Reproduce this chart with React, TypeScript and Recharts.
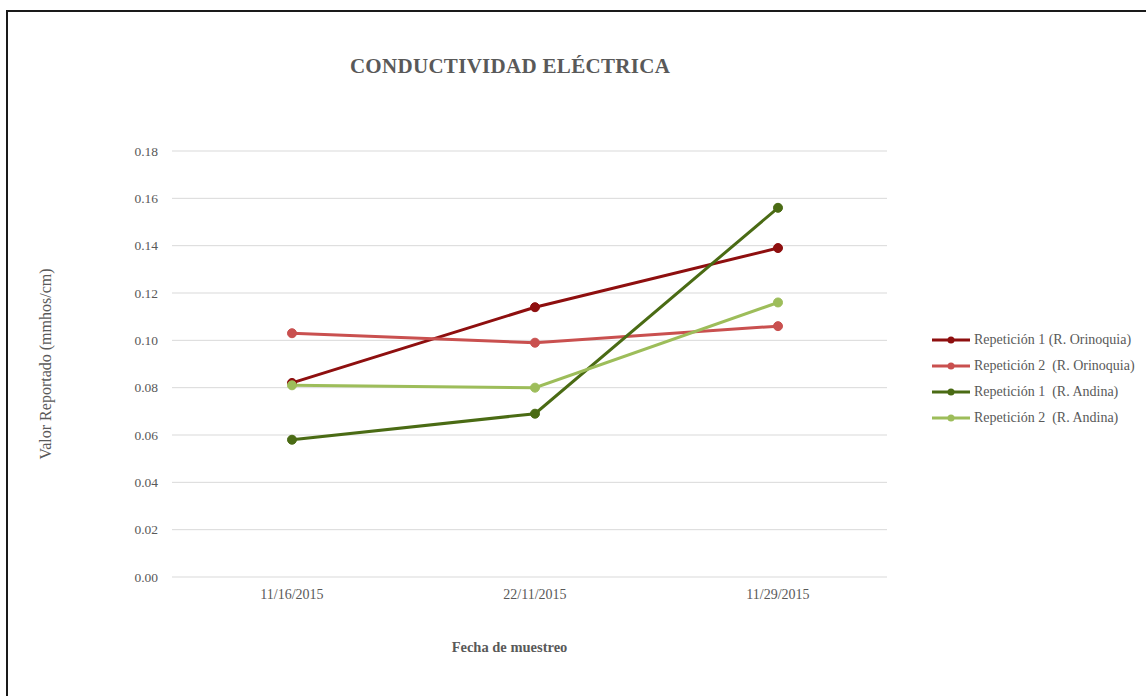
import React from "react";
import { LineChart, Line, XAxis, YAxis, CartesianGrid } from "recharts";

const categories = ["11/16/2015", "22/11/2015", "11/29/2015"];
const rep1Orinoquia = [0.082, 0.114, 0.139];
const rep2Orinoquia = [0.103, 0.099, 0.106];
const rep1Andina = [0.058, 0.069, 0.156];
const rep2Andina = [0.081, 0.08, 0.116];
const yTicks = [0, 0.02, 0.04, 0.06, 0.08, 0.1, 0.12, 0.14, 0.16, 0.18];

const seriesDefs = [
  { key: "r1o", name: "Repetición 1 (R. Orinoquia)", color: "#8E0F0F", values: rep1Orinoquia },
  { key: "r2o", name: "Repetición 2  (R. Orinoquia)", color: "#C9504F", values: rep2Orinoquia },
  { key: "r1a", name: "Repetición 1  (R. Andina)", color: "#4A6B14", values: rep1Andina },
  { key: "r2a", name: "Repetición 2  (R. Andina)", color: "#9DBD5A", values: rep2Andina },
];

const data = categories.map((c, i) => {
  const row: any = { date: c };
  seriesDefs.forEach((s) => (row[s.key] = s.values[i]));
  return row;
});

const FONT = '"Liberation Serif", "Times New Roman", serif';
const GREY = "#595959";

const HtmlLegend = () => (
  <div
    style={{
      position: "absolute",
      left: 932,
      top: 327,
      width: 214,
      fontFamily: FONT,
      fontSize: 14,
      color: GREY,
      whiteSpace: "pre",
    }}
  >
    {seriesDefs.map((s) => (
      <div key={s.key} style={{ display: "flex", alignItems: "center", height: 26 }}>
        <svg width={40} height={10} style={{ marginRight: 2 }}>
          <line x1={0} y1={5} x2={38} y2={5} stroke={s.color} strokeWidth={3} />
          <circle cx={19} cy={5} r={3.5} fill={s.color} />
        </svg>
        <span>{s.name}</span>
      </div>
    ))}
  </div>
);

export default function App() {
  return (
    <div style={{ position: "absolute", left: 0, top: 0, width: 1146, height: 696, background: "#fff", overflow: "hidden" }}>
      <div
        style={{
          position: "absolute",
          left: 6,
          top: 10,
          width: 1160,
          height: 720,
          border: "2px solid #1a1a1a",
          boxSizing: "border-box",
        }}
      />
      <div
        style={{
          position: "absolute",
          left: 0,
          width: 1020,
          top: 54,
          textAlign: "center",
          fontFamily: FONT,
          fontWeight: "bold",
          fontSize: 21,
          color: GREY,
          letterSpacing: 0.3,
        }}
      >
        CONDUCTIVIDAD ELÉCTRICA
      </div>
      <div style={{ position: "absolute", left: 0, top: 0 }}>
        <LineChart
          width={1146}
          height={696}
          data={data}
          margin={{ top: 151, right: 259, bottom: 89, left: 112 }}
        >
          <CartesianGrid horizontal vertical={false} stroke="#d9d9d9" strokeWidth={1} />
          <XAxis
            dataKey="date"
            axisLine={false}
            tickLine={false}
            height={30}
            padding={{ left: 120, right: 109 }}
            tick={{ fontFamily: FONT, fontSize: 14, fill: GREY }}
            tickMargin={6}
            label={{
              value: "Fecha de muestreo",
              position: "insideBottom",
              offset: -45,
              dx: -20,
              style: { fontFamily: FONT, fontSize: 14.5, fontWeight: "bold", fill: GREY },
            }}
          />
          <YAxis
            width={60}
            domain={[0, 0.18]}
            ticks={yTicks}
            interval={0}
            axisLine={false}
            tickLine={false}
            tickFormatter={(v: number) => v.toFixed(2)}
            tick={{ fontFamily: FONT, fontSize: 13.5, fill: GREY }}
            tickMargin={8}
            label={{
              value: "Valor Reportado (mmhos/cm)",
              angle: -90,
              position: "insideLeft",
              offset: -67,
              style: { fontFamily: FONT, fontSize: 16, fill: GREY, textAnchor: "middle" },
            }}
          />
          {seriesDefs.map((s) => (
            <Line
              key={s.key}
              type="linear"
              dataKey={s.key}
              name={s.name}
              stroke={s.color}
              strokeWidth={3}
              dot={{ r: 4.5, fill: s.color, stroke: s.color, strokeWidth: 1 }}
              activeDot={false}
              isAnimationActive={false}
            />
          ))}
        </LineChart>
      </div>
      <HtmlLegend />
    </div>
  );
}
